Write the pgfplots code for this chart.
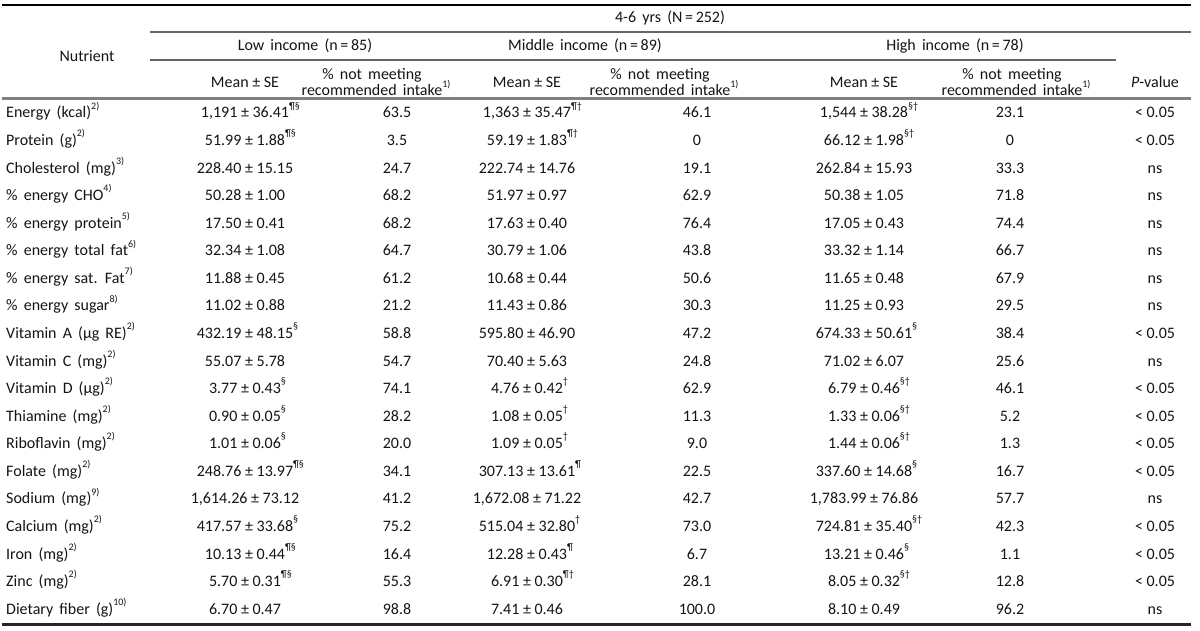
\documentclass[border=0pt]{standalone}
\usepackage{fontspec}
\setmainfont{Carlito}[WordSpace=1.7]
\newfontfamily\nf{Carlito}
\usepackage{pgfplots}
\pgfplotsset{compat=1.18}
\newcommand\su[1]{\raisebox{0.55em}{\fontsize{10}{10}\selectfont #1}}
\newcommand\sx[1]{\rlap{\su{#1}}}
% y, label, m1, p1, m2, p2, m3, p3, pv
\newcommand\row[9]{%
  \node[anchor=base west] at (axis cs:6,#1+5) {#2};
  \node[anchor=base] at (axis cs:245,#1+5) {\nf #3};
  \node[anchor=base] at (axis cs:397,#1+5) {\nf #4};
  \node[anchor=base] at (axis cs:527,#1+5) {\nf #5};
  \node[anchor=base] at (axis cs:697,#1+5) {\nf #6};
  \node[anchor=base] at (axis cs:864,#1+5) {\nf #7};
  \node[anchor=base] at (axis cs:1010,#1+5) {\nf #8};
  \node[anchor=base] at (axis cs:1155,#1+5) {\nf #9};
}
\begin{document}
\fontsize{16}{18}\selectfont
\begin{tikzpicture}[every node/.style={inner sep=0pt,text=black!92,font=\fontsize{16}{18}\selectfont}]
\begin{axis}[width=1200pt,height=631pt,scale only axis,
  xmin=0,xmax=1200,ymin=0,ymax=631,y dir=reverse,
  axis lines=none,ticks=none,clip=false]
\path (axis cs:0,0) rectangle (axis cs:1200,631);
% rules
\draw[line width=2.5pt,black] (axis cs:2,5) -- (axis cs:1191,5);
\draw[line width=1.2pt,black!60] (axis cs:150,32) -- (axis cs:1191,32);
\draw[line width=1.2pt,black!60] (axis cs:150,60) -- (axis cs:1116,60);
\draw[line width=3pt,black!50] (axis cs:2,99) -- (axis cs:1191,99);
\draw[line width=3pt,black!85] (axis cs:2,624) -- (axis cs:1191,624);
% header
\node[anchor=base] at (axis cs:670,18+5) {4-6 yrs ({\nf N\,=\,252})};
\node[anchor=base] at (axis cs:87,57+5) {Nutrient};
\node[anchor=base] at (axis cs:305,46+5) {Low income ({\nf n\,=\,85})};
\node[anchor=base] at (axis cs:585,46+5) {Middle income ({\nf n\,=\,89})};
\node[anchor=base] at (axis cs:955,46+5) {High income ({\nf n\,=\,78})};
\node[anchor=base] at (axis cs:245,83+5) {\nf Mean ± SE};
\node[anchor=base] at (axis cs:527,83+5) {\nf Mean ± SE};
\node[anchor=base] at (axis cs:864,83+5) {\nf Mean ± SE};
\node[anchor=base] at (axis cs:372,75+5) {\% not meeting};
\node[anchor=base] at (axis cs:372,91+5) {recommended intake\sx{1)}};
\node[anchor=base] at (axis cs:660,75+5) {\% not meeting};
\node[anchor=base] at (axis cs:660,91+5) {recommended intake\sx{1)}};
\node[anchor=base] at (axis cs:1012,75+5) {\% not meeting};
\node[anchor=base] at (axis cs:1012,91+5) {recommended intake\sx{1)}};
\node[anchor=base] at (axis cs:1155,83+5) {\textit{P}-value};
% body
\row{113.0}{Energy (kcal)\su{2)}}{1,191 ± 36.41\sx{¶§}}{63.5}{1,363 ± 35.47\sx{¶†}}{46.1}{1,544 ± 38.28\sx{§†}}{23.1}{< 0.05}
\row{140.6}{Protein (g)\su{2)}}{51.99 ± 1.88\sx{¶§}}{3.5}{59.19 ± 1.83\sx{¶†}}{0}{66.12 ± 1.98\sx{§†}}{0}{< 0.05}
\row{168.1}{Cholesterol (mg)\su{3)}}{228.40 ± 15.15}{24.7}{222.74 ± 14.76}{19.1}{262.84 ± 15.93}{33.3}{ns}
\row{195.7}{\% energy CHO\su{4)}}{50.28 ± 1.00}{68.2}{51.97 ± 0.97}{62.9}{50.38 ± 1.05}{71.8}{ns}
\row{223.2}{\% energy protein\su{5)}}{17.50 ± 0.41}{68.2}{17.63 ± 0.40}{76.4}{17.05 ± 0.43}{74.4}{ns}
\row{250.8}{\% energy total fat\su{6)}}{32.34 ± 1.08}{64.7}{30.79 ± 1.06}{43.8}{33.32 ± 1.14}{66.7}{ns}
\row{278.4}{\% energy sat. Fat\su{7)}}{11.88 ± 0.45}{61.2}{10.68 ± 0.44}{50.6}{11.65 ± 0.48}{67.9}{ns}
\row{305.9}{\% energy sugar\su{8)}}{11.02 ± 0.88}{21.2}{11.43 ± 0.86}{30.3}{11.25 ± 0.93}{29.5}{ns}
\row{333.5}{Vitamin A (µg RE)\su{2)}}{432.19 ± 48.15\sx{§}}{58.8}{595.80 ± 46.90}{47.2}{674.33 ± 50.61\sx{§}}{38.4}{< 0.05}
\row{361.0}{Vitamin C (mg)\su{2)}}{55.07 ± 5.78}{54.7}{70.40 ± 5.63}{24.8}{71.02 ± 6.07}{25.6}{ns}
\row{388.6}{Vitamin D (µg)\su{2)}}{3.77 ± 0.43\sx{§}}{74.1}{4.76 ± 0.42\sx{†}}{62.9}{6.79 ± 0.46\sx{§†}}{46.1}{< 0.05}
\row{416.2}{Thiamine (mg)\su{2)}}{0.90 ± 0.05\sx{§}}{28.2}{1.08 ± 0.05\sx{†}}{11.3}{1.33 ± 0.06\sx{§†}}{5.2}{< 0.05}
\row{443.7}{Riboflavin (mg)\su{2)}}{1.01 ± 0.06\sx{§}}{20.0}{1.09 ± 0.05\sx{†}}{9.0}{1.44 ± 0.06\sx{§†}}{1.3}{< 0.05}
\row{471.3}{Folate (mg)\su{2)}}{248.76 ± 13.97\sx{¶§}}{34.1}{307.13 ± 13.61\sx{¶}}{22.5}{337.60 ± 14.68\sx{§}}{16.7}{< 0.05}
\row{498.8}{Sodium (mg)\su{9)}}{1,614.26 ± 73.12}{41.2}{1,672.08 ± 71.22}{42.7}{1,783.99 ± 76.86}{57.7}{ns}
\row{526.4}{Calcium (mg)\su{2)}}{417.57 ± 33.68\sx{§}}{75.2}{515.04 ± 32.80\sx{†}}{73.0}{724.81 ± 35.40\sx{§†}}{42.3}{< 0.05}
\row{554.0}{Iron (mg)\su{2)}}{10.13 ± 0.44\sx{¶§}}{16.4}{12.28 ± 0.43\sx{¶}}{6.7}{13.21 ± 0.46\sx{§}}{1.1}{< 0.05}
\row{581.5}{Zinc (mg)\su{2)}}{5.70 ± 0.31\sx{¶§}}{55.3}{6.91 ± 0.30\sx{¶†}}{28.1}{8.05 ± 0.32\sx{§†}}{12.8}{< 0.05}
\row{609.1}{Dietary fiber (g)\su{10)}}{6.70 ± 0.47}{98.8}{7.41 ± 0.46}{100.0}{8.10 ± 0.49}{96.2}{ns}
\end{axis}
\end{tikzpicture}
\end{document}
